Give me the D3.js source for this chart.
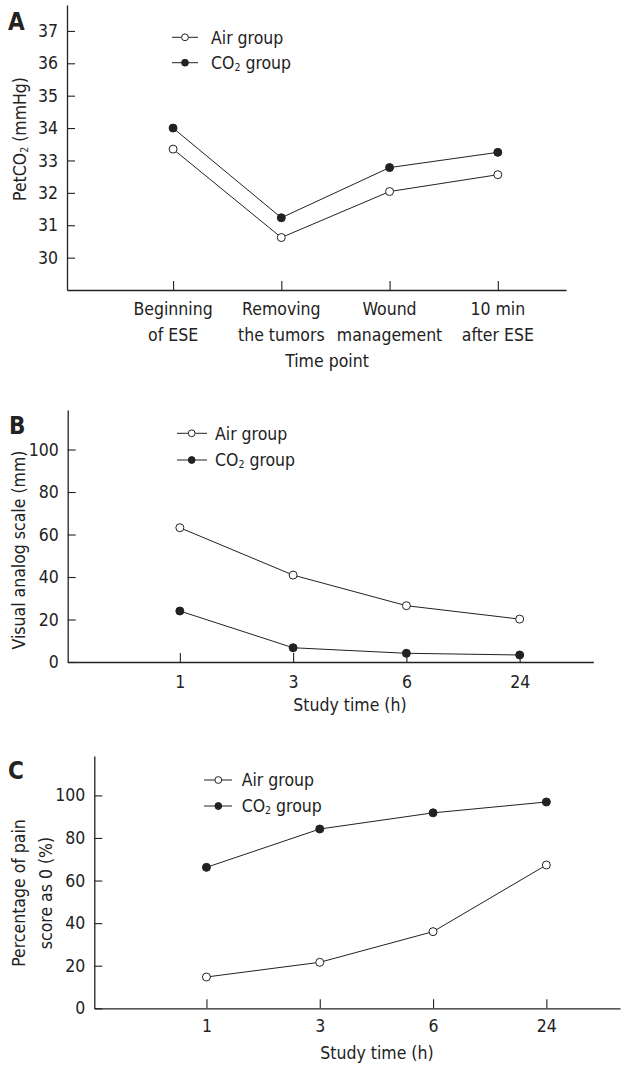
<!DOCTYPE html>
<html>
<head>
<meta charset="utf-8">
<script src="https://cdn.jsdelivr.net/npm/d3@7"></script>
<style>
  html, body { margin: 0; padding: 0; background: #fff; }
  svg text { font-family: "DejaVu Sans Condensed", "DejaVu Sans", sans-serif; fill: #222; }
</style>
</head>
<body>
<svg id="chart" width="626" height="1066"></svg>
<script>
// ---------- DATA ----------
const timePointsA = [["Beginning", "of ESE"], ["Removing", "the tumors"], ["Wound", "management"], ["10 min", "after ESE"]];
const airA = [33.35, 30.62, 32.04, 32.56];
const co2A = [34.0, 31.23, 32.78, 33.25];
const yTicksA = [30, 31, 32, 33, 34, 35, 36, 37];

const studyTimes = ["1", "3", "6", "24"];
const airB = [63.2, 40.9, 26.5, 20.2];
const co2B = [24.0, 6.7, 4.1, 3.3];
const yTicksB = [0, 20, 40, 60, 80, 100];

const airC = [14.7, 21.6, 36.0, 67.3];
const co2C = [66.2, 84.2, 91.8, 96.9];
const yTicksC = [0, 20, 40, 60, 80, 100];

const seriesNames = ["Air group", "CO2 group"];

// ---------- DRAW ----------
const svg = d3.select("#chart");
const FS = 17.5;
const INK = "#222";

function drawPanel(p) {
  const g = svg.append("g");
  const x = d3.scaleLinear().domain(p.xDomain).range([p.left, p.right]);
  const y = d3.scaleLinear().domain(p.yDomain).range([p.bottom, p.top]);

  // y axis
  const ya = g.append("g").attr("transform", `translate(${p.left},0)`)
    .call(d3.axisLeft(y).tickValues(p.yTicks).tickSizeInner(-8).tickSizeOuter(0).tickPadding(9).tickFormat(d3.format("d")));
  // x axis
  const xa = g.append("g").attr("transform", `translate(0,${p.bottom})`)
    .call(d3.axisBottom(x).tickValues(d3.range(p.labels.length)).tickSizeInner(-9).tickSizeOuter(0).tickPadding(p.xPad)
      .tickFormat(i => Array.isArray(p.labels[i]) ? "" : p.labels[i]));
  [ya, xa].forEach(a => {
    a.selectAll("path.domain").attr("stroke", INK).attr("stroke-width", 1.3);
    a.selectAll(".tick line").attr("stroke", INK).attr("stroke-width", 1.1);
    a.selectAll("text").attr("font-size", FS).attr("font-family", null).attr("fill", INK);
  });
  // multi-line category labels
  if (Array.isArray(p.labels[0])) {
    p.labels.forEach((lab, i) => {
      const t = g.append("text").attr("x", x(i)).attr("text-anchor", "middle").attr("font-size", FS);
      lab.forEach((line, k) => {
        t.append("tspan").attr("x", x(i)).attr("y", p.bottom + p.xLabelBase + k * 26.5).text(line);
      });
    });
  }
  // x title
  g.append("text").attr("x", p.xTitleX).attr("y", p.xTitleY).attr("text-anchor", "middle")
    .attr("font-size", FS).text(p.xTitle);
  // y title
  p.yTitle.forEach((line, k) => {
    const t = g.append("text")
      .attr("transform", `translate(${p.yTitleX[k]},${p.yTitleY}) rotate(-90)`)
      .attr("text-anchor", "middle").attr("dy", "0.35em").attr("font-size", FS);
    if (typeof line === "object") {
      t.append("tspan").text(line.pre);
      t.append("tspan").attr("font-size", FS * 0.6).attr("dy", "0.15em").text(line.subscript);
      t.append("tspan").attr("dy", "-0.09em").text(line.post);
    } else {
      t.text(line);
    }
  });
  // panel letter
  g.append("text").attr("x", p.letterX).attr("y", p.letterY).attr("font-size", 24)
    .attr("font-weight", "bold").attr("font-family", "DejaVu Sans").text(p.letter);

  // series
  const line = d3.line().x((d, i) => x(i)).y(d => y(d));
  const series = [{ vals: p.air, fill: "#fff" }, { vals: p.co2, fill: INK }];
  series.forEach(s => {
    g.append("path").datum(s.vals).attr("d", line).attr("fill", "none")
      .attr("stroke", INK).attr("stroke-width", 1);
    g.selectAll(null).data(s.vals).enter().append("circle")
      .attr("cx", (d, i) => x(i)).attr("cy", d => y(d)).attr("r", 4)
      .attr("fill", s.fill).attr("stroke", INK).attr("stroke-width", 1);
  });

  // legend
  const L = p.legend;
  series.forEach((s, k) => {
    const yy = L.rows[k];
    g.append("line").attr("x1", L.x1).attr("x2", L.x2).attr("y1", yy).attr("y2", yy)
      .attr("stroke", INK).attr("stroke-width", 1);
    g.append("circle").attr("cx", L.cx).attr("cy", yy).attr("r", 3.4)
      .attr("fill", s.fill).attr("stroke", INK).attr("stroke-width", 1);
    const t = g.append("text").attr("x", L.tx).attr("y", yy).attr("dy", "0.36em").attr("font-size", FS);
    const name = seriesNames[k];
    if (name.startsWith("CO2")) {
      t.append("tspan").text("CO");
      t.append("tspan").attr("font-size", FS * 0.6).attr("dy", "0.15em").text("2");
      t.append("tspan").attr("dy", "-0.09em").text(name.slice(3));
    } else {
      t.text(name);
    }
  });
}

drawPanel({
  left: 67, right: 566, top: 5, bottom: 290,
  xDomain: [-0.98, 3.63], yDomain: [29, 37.8],
  yTicks: yTicksA, labels: timePointsA, xPad: 10, xLabelBase: 24.5,
  air: airA, co2: co2A,
  xTitle: "Time point", xTitleX: 327, xTitleY: 367,
  yTitle: [{ pre: "PetCO", subscript: "2", post: " (mmHg)" }], yTitleX: [20], yTitleY: 139,
  letter: "A", letterX: 8, letterY: 30,
  legend: { x1: 172, x2: 198, cx: 185, tx: 211, rows: [37.3, 62.7] }
});

drawPanel({
  left: 67.7, right: 593.3, top: 410, bottom: 662,
  xDomain: [-0.99, 3.65], yDomain: [0, 118.6],
  yTicks: yTicksB, labels: studyTimes, xPad: 14,
  air: airB, co2: co2B,
  xTitle: "Study time (h)", xTitleX: 350, xTitleY: 711,
  yTitle: ["Visual analog scale (mm)"], yTitleX: [18.5], yTitleY: 550,
  letter: "B", letterX: 9, letterY: 434,
  legend: { x1: 177, x2: 207, cx: 191.7, tx: 215, rows: [433.3, 460] }
});

drawPanel({
  left: 94.3, right: 620, top: 756, bottom: 1008.3,
  xDomain: [-0.99, 3.65], yDomain: [0, 118.5],
  yTicks: yTicksC, labels: studyTimes, xPad: 11.5,
  air: airC, co2: co2C,
  xTitle: "Study time (h)", xTitleX: 377, xTitleY: 1059,
  yTitle: ["Percentage of pain", "score as 0 (%)"], yTitleX: [18.5, 46], yTitleY: 893,
  letter: "C", letterX: 8, letterY: 779,
  legend: { x1: 204, x2: 232, cx: 218.3, tx: 241.7, rows: [780, 806] }
});
</script>
</body>
</html>
